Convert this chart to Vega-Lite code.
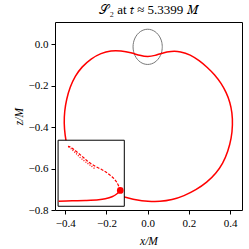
{
  "$schema": "https://vega.github.io/schema/vega-lite/v6.json",
  "width": 187,
  "height": 188,
  "autosize": "none",
  "padding": {"left": 55, "top": 22, "right": 7, "bottom": 39},
  "background": "white",
  "title": {"text": "𝒮₂ at 𝑡 ≈ 5.3399 𝑀", "font": "Liberation Serif", "fontSize": 13, "fontWeight": "normal", "color": "black", "offset": 5},
  "config": {
    "view": {"stroke": "black", "strokeWidth": 1},
    "axis": {"grid": false, "domain": false, "tickColor": "black", "tickSize": 4, "labelFont": "Liberation Serif", "labelFontSize": 11, "labelColor": "black", "labelPadding": 3, "titleFont": "Liberation Serif", "titleFontSize": 11.5, "titleFontStyle": "italic", "titleFontWeight": "normal", "titleColor": "black"}
  },
  "datasets": {
    "curves": [
      {"s": "main", "i": 0, "x": -0.16, "y": -0.730},
      {"s": "main", "i": 1, "x": -0.1150, "y": -0.7361},
      {"s": "main", "i": 2, "x": -0.0568, "y": -0.7516},
      {"s": "main", "i": 3, "x": 0.0015, "y": -0.7588},
      {"s": "main", "i": 4, "x": 0.0597, "y": -0.7598},
      {"s": "main", "i": 5, "x": 0.1180, "y": -0.7516},
      {"s": "main", "i": 6, "x": 0.1762, "y": -0.7322},
      {"s": "main", "i": 7, "x": 0.2345, "y": -0.7031},
      {"s": "main", "i": 8, "x": 0.2879, "y": -0.6668},
      {"s": "main", "i": 9, "x": 0.3316, "y": -0.6232},
      {"s": "main", "i": 10, "x": 0.3655, "y": -0.5748},
      {"s": "main", "i": 11, "x": 0.3898, "y": -0.5167},
      {"s": "main", "i": 12, "x": 0.4068, "y": -0.4538},
      {"s": "main", "i": 13, "x": 0.4130, "y": -0.3860},
      {"s": "main", "i": 14, "x": 0.4100, "y": -0.3300},
      {"s": "main", "i": 15, "x": 0.4000, "y": -0.2800},
      {"s": "main", "i": 16, "x": 0.3820, "y": -0.2330},
      {"s": "main", "i": 17, "x": 0.3570, "y": -0.1880},
      {"s": "main", "i": 18, "x": 0.3260, "y": -0.1470},
      {"s": "main", "i": 19, "x": 0.2900, "y": -0.1110},
      {"s": "main", "i": 20, "x": 0.2500, "y": -0.0780},
      {"s": "main", "i": 21, "x": 0.2070, "y": -0.0500},
      {"s": "main", "i": 22, "x": 0.1600, "y": -0.0340},
      {"s": "main", "i": 23, "x": 0.1131, "y": -0.0324},
      {"s": "main", "i": 24, "x": 0.0694, "y": -0.0421},
      {"s": "main", "i": 25, "x": 0.0354, "y": -0.0542},
      {"s": "main", "i": 26, "x": 0.0015, "y": -0.0610},
      {"s": "main", "i": 27, "x": -0.0374, "y": -0.0542},
      {"s": "main", "i": 28, "x": -0.0811, "y": -0.0397},
      {"s": "main", "i": 29, "x": -0.1296, "y": -0.0310},
      {"s": "main", "i": 30, "x": -0.1782, "y": -0.0300},
      {"s": "main", "i": 31, "x": -0.2267, "y": -0.0421},
      {"s": "main", "i": 32, "x": -0.2752, "y": -0.0688},
      {"s": "main", "i": 33, "x": -0.3189, "y": -0.1075},
      {"s": "main", "i": 34, "x": -0.3529, "y": -0.1535},
      {"s": "main", "i": 35, "x": -0.3772, "y": -0.2068},
      {"s": "main", "i": 36, "x": -0.3942, "y": -0.2649},
      {"s": "main", "i": 37, "x": -0.4039, "y": -0.3230},
      {"s": "main", "i": 38, "x": -0.4063, "y": -0.3811},
      {"s": "main", "i": 39, "x": -0.4015, "y": -0.4392},
      {"s": "main", "i": 40, "x": -0.3917, "y": -0.4925},
      {"s": "main", "i": 41, "x": -0.3772, "y": -0.5458},
      {"s": "main", "i": 42, "x": -0.3481, "y": -0.6184},
      {"s": "main", "i": 43, "x": -0.29, "y": -0.680},
      {"s": "main", "i": 44, "x": -0.22, "y": -0.715},
      {"s": "main", "i": 45, "x": -0.16, "y": -0.730},
      {"s": "horizon", "i": 0, "x": 0.071, "y": -0.012},
      {"s": "horizon", "i": 1, "x": 0.0686, "y": 0.010},
      {"s": "horizon", "i": 2, "x": 0.0615, "y": 0.0305},
      {"s": "horizon", "i": 3, "x": 0.0502, "y": 0.0481},
      {"s": "horizon", "i": 4, "x": 0.0355, "y": 0.0616},
      {"s": "horizon", "i": 5, "x": 0.0184, "y": 0.0701},
      {"s": "horizon", "i": 6, "x": 0, "y": 0.073},
      {"s": "horizon", "i": 7, "x": -0.0184, "y": 0.0701},
      {"s": "horizon", "i": 8, "x": -0.0355, "y": 0.0616},
      {"s": "horizon", "i": 9, "x": -0.0502, "y": 0.0481},
      {"s": "horizon", "i": 10, "x": -0.0615, "y": 0.0305},
      {"s": "horizon", "i": 11, "x": -0.0686, "y": 0.010},
      {"s": "horizon", "i": 12, "x": -0.071, "y": -0.012},
      {"s": "horizon", "i": 13, "x": -0.0686, "y": -0.034},
      {"s": "horizon", "i": 14, "x": -0.0615, "y": -0.0545},
      {"s": "horizon", "i": 15, "x": -0.0502, "y": -0.0721},
      {"s": "horizon", "i": 16, "x": -0.0355, "y": -0.0856},
      {"s": "horizon", "i": 17, "x": -0.0184, "y": -0.0941},
      {"s": "horizon", "i": 18, "x": 0, "y": -0.097},
      {"s": "horizon", "i": 19, "x": 0.0184, "y": -0.0941},
      {"s": "horizon", "i": 20, "x": 0.0355, "y": -0.0856},
      {"s": "horizon", "i": 21, "x": 0.0502, "y": -0.0721},
      {"s": "horizon", "i": 22, "x": 0.0615, "y": -0.0545},
      {"s": "horizon", "i": 23, "x": 0.0686, "y": -0.034},
      {"s": "horizon", "i": 24, "x": 0.071, "y": -0.012},
      {"s": "inset_solid", "i": 0, "x": -0.433, "y": -0.7574},
      {"s": "inset_solid", "i": 1, "x": -0.3675, "y": -0.7554},
      {"s": "inset_solid", "i": 2, "x": -0.3029, "y": -0.7540},
      {"s": "inset_solid", "i": 3, "x": -0.2379, "y": -0.7506},
      {"s": "inset_solid", "i": 4, "x": -0.2058, "y": -0.7458},
      {"s": "inset_solid", "i": 5, "x": -0.1733, "y": -0.7361},
      {"s": "inset_solid", "i": 6, "x": -0.1490, "y": -0.7215},
      {"s": "inset_solid", "i": 7, "x": -0.1330, "y": -0.7056},
      {"s": "inset_dashed", "i": 0, "x": -0.1329, "y": -0.7056},
      {"s": "inset_dashed", "i": 1, "x": -0.1409, "y": -0.6846},
      {"s": "inset_dashed", "i": 2, "x": -0.1539, "y": -0.6604},
      {"s": "inset_dashed", "i": 3, "x": -0.1733, "y": -0.6394},
      {"s": "inset_dashed", "i": 4, "x": -0.1976, "y": -0.6200},
      {"s": "inset_dashed", "i": 5, "x": -0.2218, "y": -0.6055},
      {"s": "inset_dashed", "i": 6, "x": -0.2542, "y": -0.5893},
      {"s": "inset_dashed", "i": 7, "x": -0.2866, "y": -0.5684},
      {"s": "inset_dashed", "i": 8, "x": -0.3108, "y": -0.5474},
      {"s": "inset_dashed", "i": 9, "x": -0.3351, "y": -0.5264},
      {"s": "inset_dashed", "i": 10, "x": -0.3594, "y": -0.5070},
      {"s": "inset_dashed", "i": 11, "x": -0.3756, "y": -0.4957},
      {"s": "inset_dashed", "i": 12, "x": -0.3869, "y": -0.4925},
      {"s": "inset_dotted", "i": 0, "x": -0.3836, "y": -0.4957},
      {"s": "inset_dotted", "i": 1, "x": -0.3707, "y": -0.5054},
      {"s": "inset_dotted", "i": 2, "x": -0.3513, "y": -0.5231},
      {"s": "inset_dotted", "i": 3, "x": -0.3270, "y": -0.5474},
      {"s": "inset_dotted", "i": 4, "x": -0.3028, "y": -0.5667},
      {"s": "inset_dotted", "i": 5, "x": -0.2785, "y": -0.5845},
      {"s": "inset_dotted", "i": 6, "x": -0.2542, "y": -0.6023}
    ],
    "inset_box": [{"x": -0.435, "x2": -0.1135, "y": -0.463, "y2": -0.782}],
    "marker": [{"x": -0.133, "y": -0.7056}]
  },
  "encoding": {
    "x": {"field": "x", "type": "quantitative", "scale": {"domain": [-0.45, 0.458], "nice": false, "zero": false}, "axis": {"title": "x/M", "values": [-0.4, -0.2, 0, 0.2, 0.4], "format": ".1f", "titlePadding": 7}},
    "y": {"field": "y", "type": "quantitative", "scale": {"domain": [-0.8, 0.108], "nice": false, "zero": false}, "axis": {"title": "z/M", "values": [-0.8, -0.6, -0.4, -0.2, 0], "format": ".1f", "titlePadding": 4}}
  },
  "layer": [
    {
      "data": {"name": "curves"},
      "transform": [{"filter": "datum.s === 'horizon'"}],
      "mark": {"type": "line", "color": "#777777", "strokeWidth": 1, "interpolate": "catmull-rom"},
      "encoding": {"order": {"field": "i", "type": "quantitative"}}
    },
    {
      "data": {"name": "curves"},
      "transform": [{"filter": "datum.s === 'main'"}],
      "mark": {"type": "line", "color": "#ff0000", "strokeWidth": 1.5, "interpolate": "basis"},
      "encoding": {"order": {"field": "i", "type": "quantitative"}}
    },
    {
      "data": {"name": "inset_box"},
      "mark": {"type": "rect", "fill": "white", "stroke": "black", "strokeWidth": 1},
      "encoding": {"x2": {"field": "x2"}, "y2": {"field": "y2"}}
    },
    {
      "data": {"name": "curves"},
      "transform": [{"filter": "datum.s === 'inset_solid'"}],
      "mark": {"type": "line", "color": "#ff0000", "strokeWidth": 1.5, "interpolate": "catmull-rom"},
      "encoding": {"order": {"field": "i", "type": "quantitative"}}
    },
    {
      "data": {"name": "curves"},
      "transform": [{"filter": "datum.s === 'inset_dashed'"}],
      "mark": {"type": "line", "color": "#ff0000", "strokeWidth": 1.2, "strokeDash": [3, 1.5], "interpolate": "catmull-rom"},
      "encoding": {"order": {"field": "i", "type": "quantitative"}}
    },
    {
      "data": {"name": "curves"},
      "transform": [{"filter": "datum.s === 'inset_dotted'"}],
      "mark": {"type": "line", "color": "#ff0000", "strokeWidth": 1.2, "strokeDash": [1, 1.5], "interpolate": "catmull-rom"},
      "encoding": {"order": {"field": "i", "type": "quantitative"}}
    },
    {
      "data": {"name": "marker"},
      "mark": {"type": "point", "filled": true, "color": "#ff0000", "size": 45, "opacity": 1}
    }
  ]
}
